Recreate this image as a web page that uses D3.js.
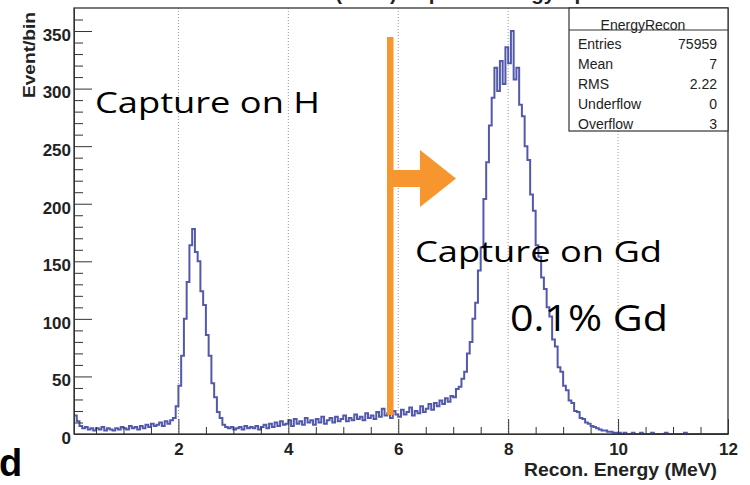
<!DOCTYPE html>
<html>
<head>
<meta charset="utf-8">
<script src="https://cdn.jsdelivr.net/npm/d3@7"></script>
<style>
  body { margin: 0; background: #fff; }
  svg { display: block; }
</style>
</head>
<body>
<svg id="graph" width="750" height="485"></svg>
<script>
// histogram: EnergyRecon, 0.05 MeV bins starting at 0.1 MeV
var binStart = 0.1;
var binWidth = 0.05;
var counts = [
  // 0.10 - 1.85
  16, 11, 7, 5, 6, 4, 5, 3, 5, 4, 6, 3, 5, 4, 3, 5, 4, 6, 5, 4,
  7, 5, 6, 4, 7, 5, 8, 6, 9, 7, 8, 10, 7, 11, 9, 12,
  // 1.90 - 2.85 (capture on H)
  14, 24, 42, 68, 100, 132, 164, 178, 158, 150, 124, 112, 86, 68, 44, 32, 19, 14, 8, 6,
  // 2.90 - 3.95
  5, 6, 4, 5, 6, 4, 7, 5, 6, 5, 7, 4, 6, 8, 5, 9, 6, 10, 7, 11, 8, 9,
  // 4.00 - 5.95
  12, 7, 13, 9, 11, 8, 14, 10, 12, 8, 13, 10, 15, 9, 12, 14, 10, 15, 11, 13,
  16, 11, 14, 12, 17, 13, 15, 12, 18, 14, 16, 13, 19, 15, 22, 16, 18, 14, 20, 17,
  // 6.00 - 6.95
  15, 21, 17, 19, 23, 16, 20, 18, 24, 19, 22, 26, 21, 27, 24, 29, 26, 31, 28, 33,
  // 7.00 - 9.95 (capture on Gd)
  32, 39, 41, 48, 54, 70, 80, 100, 114, 142, 162, 204, 236, 268, 292, 318, 298, 324, 304, 336,
  322, 350, 308, 318, 286, 276, 250, 238, 208, 194, 164, 154, 136, 126, 110, 102, 82, 76, 58, 54,
  42, 38, 29, 27, 20, 19, 14, 13, 10, 9, 7, 6, 5, 4, 3, 3, 2, 2, 1, 1,
  // 10.00 - 11.95
  1, 0, 1, 0, 0, 1, 0, 0, 1, 0, 0, 0, 1, 0, 0, 0, 0, 1, 0, 0,
  0, 0, 0, 0, 1, 0, 0, 0, 0, 0, 0, 0, 0, 0, 0, 0, 0, 0, 0, 0
];

var xTicks = [2, 4, 6, 8, 10, 12];
var xMinor = [0.5, 1, 1.5, 2.5, 3, 3.5, 4.5, 5, 5.5, 6.5, 7, 7.5, 8.5, 9, 9.5, 10.5, 11, 11.5];
var yTicks = [0, 50, 100, 150, 200, 250, 300, 350];
var yMinor = d3.range(10, 370, 10).filter(function(v) { return v % 50 != 0; });

var statNames = ["Entries", "Mean", "RMS", "Underflow", "Overflow"];
var statValues = ["75959", "7", "2.22", "0", "3"];

var svg = d3.select("#graph");
var L = 74, R = 728, T = 8, B = 434;

var x = d3.scaleLinear().domain([0.1, 12]).range([L, R]);
var y = d3.scaleLinear().domain([0, 370]).range([B, T]);

var rootFont = "'Liberation Sans', Arial, Helvetica, sans-serif";
var noteFont = "'Open Sans', 'Noto Sans', sans-serif";

// title, mostly cut off at top edge (as in the source picture)
svg.append("text")
  .attr("x", 251).attr("y", 0)
  .attr("font-family", rootFont).attr("font-weight", "bold")
  .attr("font-size", 20.5).attr("fill", "#222")
  .text("Neutron (AmC) Capture Energy Spectrum");

// dotted grid on major x ticks
svg.append("g").selectAll("line")
  .data(xTicks.filter(function(d) { return d < 12; }))
  .enter().append("line")
  .attr("x1", function(d) { return x(d); })
  .attr("x2", function(d) { return x(d); })
  .attr("y1", T).attr("y2", B)
  .attr("stroke", "#999").attr("stroke-width", 1)
  .attr("stroke-dasharray", "1,2");

// histogram outline
var pts = counts.map(function(c, i) { return [binStart + i * binWidth, c]; });
pts.push([binStart + counts.length * binWidth, counts[counts.length - 1]]);
var line = d3.line()
  .x(function(d) { return x(d[0]); })
  .y(function(d) { return y(d[1]); })
  .curve(d3.curveStepAfter);
svg.append("path")
  .datum(pts)
  .attr("d", line)
  .attr("fill", "none")
  .attr("stroke", "#5259ad")
  .attr("stroke-width", 2);

// axes
var xAxis = svg.append("g")
  .attr("transform", "translate(0," + B + ")")
  .call(d3.axisBottom(x).tickValues(xTicks).tickSize(-15).tickPadding(9).tickSizeOuter(0));
svg.append("g")
  .attr("transform", "translate(0," + B + ")")
  .call(d3.axisBottom(x).tickValues(xMinor).tickSize(-7).tickFormat(""))
  .select(".domain").remove();

var yAxis = svg.append("g")
  .attr("transform", "translate(" + L + ",0)")
  .call(d3.axisLeft(y).tickValues(yTicks).tickSize(-18).tickPadding(3).tickSizeOuter(0));
svg.append("g")
  .attr("transform", "translate(" + L + ",0)")
  .call(d3.axisLeft(y).tickValues(yMinor).tickSize(-9).tickFormat(""))
  .select(".domain").remove();

svg.selectAll(".tick line").attr("stroke", "#333");
svg.selectAll(".domain").attr("stroke", "#333");
xAxis.selectAll("text")
  .attr("font-family", rootFont).attr("font-weight", "bold")
  .attr("font-size", 17).attr("fill", "#222");
yAxis.selectAll("text")
  .attr("font-family", rootFont).attr("font-weight", "bold")
  .attr("font-size", 17).attr("fill", "#222")
  .attr("dy", "0.55em");

// frame
svg.append("rect")
  .attr("x", L).attr("y", T)
  .attr("width", R - L).attr("height", B - T)
  .attr("fill", "none").attr("stroke", "#333").attr("stroke-width", 1.3);

// axis titles
svg.append("text")
  .attr("transform", "translate(35,12) rotate(-90)")
  .attr("text-anchor", "end")
  .attr("font-family", rootFont).attr("font-weight", "bold")
  .attr("font-size", 16).attr("fill", "#222")
  .attr("textLength", 86).attr("lengthAdjust", "spacingAndGlyphs")
  .text("Event/bin");

svg.append("text")
  .attr("x", 524).attr("y", 476)
  .attr("font-family", rootFont).attr("font-weight", "bold")
  .attr("font-size", 18).attr("fill", "#222")
  .attr("textLength", 193).attr("lengthAdjust", "spacingAndGlyphs")
  .text("Recon. Energy (MeV)");

// stats box
var sb = svg.append("g");
sb.append("rect")
  .attr("x", 569).attr("y", T)
  .attr("width", R - 569).attr("height", 123)
  .attr("fill", "#fff").attr("stroke", "#333").attr("stroke-width", 1.2);
sb.append("line")
  .attr("x1", 569).attr("x2", R).attr("y1", 30).attr("y2", 30)
  .attr("stroke", "#333").attr("stroke-width", 1.2);
sb.append("text")
  .attr("x", 643).attr("y", 29.5)
  .attr("text-anchor", "middle")
  .attr("font-family", rootFont).attr("font-size", 14).attr("fill", "#222")
  .text("EnergyRecon");
sb.selectAll("text.sn")
  .data(statNames).enter().append("text")
  .attr("class", "sn")
  .attr("x", 578).attr("y", function(d, i) { return 49 + i * 20; })
  .attr("font-family", rootFont).attr("font-size", 14).attr("fill", "#222")
  .text(function(d) { return d; });
sb.selectAll("text.sv")
  .data(statValues).enter().append("text")
  .attr("class", "sv")
  .attr("x", 717).attr("y", function(d, i) { return 49 + i * 20; })
  .attr("text-anchor", "end")
  .attr("font-family", rootFont).attr("font-size", 14).attr("fill", "#222")
  .text(function(d) { return d; });

// orange cut arrow
var orange = "#f7962e";
svg.append("rect")
  .attr("x", 387).attr("y", 37).attr("width", 6.5).attr("height", 378)
  .attr("fill", orange);
svg.append("path")
  .attr("d", "M393,170 L420,170 L420,150 L456,178.5 L420,207 L420,187 L393,187 Z")
  .attr("fill", orange);

// annotations
svg.append("text")
  .attr("x", 95).attr("y", 113)
  .attr("font-family", noteFont).attr("font-size", 30).attr("fill", "#000")
  .attr("textLength", 225).attr("lengthAdjust", "spacingAndGlyphs")
  .text("Capture on H");
svg.append("text")
  .attr("x", 415).attr("y", 262)
  .attr("font-family", noteFont).attr("font-size", 30).attr("fill", "#000")
  .attr("textLength", 247).attr("lengthAdjust", "spacingAndGlyphs")
  .text("Capture on Gd");
svg.append("text")
  .attr("x", 510).attr("y", 331)
  .attr("font-family", noteFont).attr("font-size", 37).attr("fill", "#000")
  .attr("textLength", 158).attr("lengthAdjust", "spacingAndGlyphs")
  .text("0.1% Gd");

svg.append("text")
  .attr("x", -1).attr("y", 476)
  .attr("font-family", rootFont).attr("font-weight", "bold")
  .attr("font-size", 38).attr("fill", "#000")
  .text("d");
</script>
</body>
</html>
